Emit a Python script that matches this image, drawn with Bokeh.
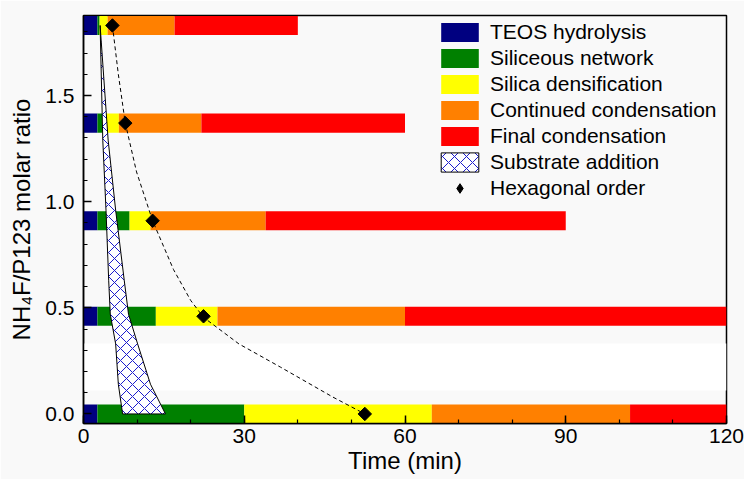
import numpy as np
from bokeh.plotting import figure
from bokeh.models import Range1d, SingleIntervalTicker, PrintfTickFormatter, Legend, LegendItem, BoxAnnotation
from bokeh.embed import file_html
from bokeh.resources import INLINE

# NH4F/P123 molar ratio of each synthesis (rows)
ratios = [0.0, 0.46, 0.91, 1.37, 1.83]
# end time (min) of each stage per row
teos_end = [2.6, 2.6, 2.6, 2.6, 2.6]
network_end = [30.0, 13.5, 8.6, 3.5, 3.0]
densification_end = [65.0, 25.0, 12.5, 6.6, 4.5]
continued_end = [102.0, 60.0, 34.0, 22.0, 17.0]
final_end = [120.0, 120.0, 90.0, 60.0, 40.0]

# hexagonal order onset (min) per row
hex_time = [52.5, 22.4, 12.9, 7.8, 5.4]

# dashed guide curve
curve_ratio = [1.83, 1.60, 1.37, 1.14, 0.91, 0.68, 0.535, 0.455, 0.33, 0.22, 0.08, 0.0]
curve_time = [5.4, 6.5, 7.8, 9.9, 12.9, 16.8, 20.0, 22.4, 29.0, 36.8, 46.5, 52.5]

# substrate addition window
substrate_ratio = [1.83, 1.29, 0.96, 0.63, 0.47, 0.33, 0.14, 0.0]
substrate_start = [3.1, 3.6, 4.2, 4.7, 5.0, 6.0, 6.5, 7.3]
substrate_end = [3.1, 4.6, 6.0, 7.6, 8.4, 10.1, 12.5, 15.3]

stage_names = ["TEOS hydrolysis", "Siliceous network", "Silica densification",
               "Continued condensation", "Final condensation"]
stage_colors = ["#000080", "#008000", "#ffff00", "#ff8000", "#ff0000"]

FONT = "Liberation Sans"
BG = "#f9f9f9"

p = figure(width=744, height=479, x_range=Range1d(0, 120), y_range=Range1d(-0.045, 1.877),
           output_backend="svg", toolbar_location=None,
           min_border_left=83, min_border_right=18, min_border_top=15, min_border_bottom=56)
p.background_fill_color = BG
p.border_fill_color = BG
p.outline_line_color = "black"
p.outline_line_width = 1.5
p.grid.visible = False

p.add_layout(BoxAnnotation(bottom=0.111, top=0.332, fill_color="white", fill_alpha=1.0,
                           line_alpha=0, level="underlay"))

bounds = [[0.0] * len(ratios), teos_end, network_end, densification_end, continued_end, final_end]
bar_renderers = []
for i, (name, col) in enumerate(zip(stage_names, stage_colors)):
    r = p.hbar(y=ratios, left=bounds[i], right=bounds[i + 1], height=0.09,
               fill_color=col, line_color=None)
    bar_renderers.append(r)

poly_x = substrate_start + substrate_end[::-1]
poly_y = substrate_ratio + substrate_ratio[::-1]
sub = p.patch(poly_x, poly_y, fill_color="white", line_color="black", line_width=1,
              hatch_pattern="diagonal_cross", hatch_color="#1a1acc", hatch_scale=12, hatch_weight=1)

p.line(curve_time, curve_ratio, line_color="black", line_width=1, line_dash="4 3")
p.scatter(hex_time, ratios, marker="square", angle=np.pi / 4, size=9.5,
          fill_color="black", line_color="black")
# legend-only marker (legend glyphs ignore the rotation)
hex_leg = p.scatter([np.nan], [np.nan], marker="diamond", size=15,
                    fill_color="black", line_color="black")

p.xaxis.ticker = SingleIntervalTicker(interval=30, num_minor_ticks=3)
p.yaxis.ticker = SingleIntervalTicker(interval=0.5, num_minor_ticks=5)
p.yaxis.formatter = PrintfTickFormatter(format="%.1f")
p.xaxis.axis_label = "Time (min)"
p.yaxis.axis_label = "NH\u2084F/P123 molar ratio"
for ax in (p.xaxis, p.yaxis):
    ax.axis_line_width = 1.5
    ax.axis_line_color = "black"
    ax.major_tick_in = 8
    ax.major_tick_out = 0
    ax.minor_tick_in = 4
    ax.minor_tick_out = 0
    ax.major_tick_line_width = 1.5
    ax.minor_tick_line_width = 1.2
    ax.major_tick_line_color = "black"
    ax.minor_tick_line_color = "black"
    ax.major_label_text_font = FONT
    ax.major_label_text_font_size = "21px"
    ax.major_label_text_color = "black"
    ax.axis_label_text_font = FONT
    ax.axis_label_text_font_size = "24px"
    ax.axis_label_text_font_style = "normal"
    ax.axis_label_text_color = "black"
p.xaxis.major_label_standoff = 5
p.xaxis.axis_label_standoff = 1
p.yaxis.major_label_standoff = 9
p.yaxis.axis_label_standoff = 7

items = [LegendItem(label=n, renderers=[r]) for n, r in zip(stage_names, bar_renderers)]
items.append(LegendItem(label="Substrate addition", renderers=[sub]))
items.append(LegendItem(label="Hexagonal order", renderers=[hex_leg]))
legend = Legend(items=items, location=(348, 218), border_line_alpha=0, background_fill_alpha=0,
                label_text_font=FONT, label_text_font_size="21px", label_text_color="black",
                glyph_width=47, glyph_height=24, label_height=24, spacing=2, padding=5,
                margin=0, label_standoff=7)
p.add_layout(legend)

open("out.html", "w").write(file_html(p, INLINE))
